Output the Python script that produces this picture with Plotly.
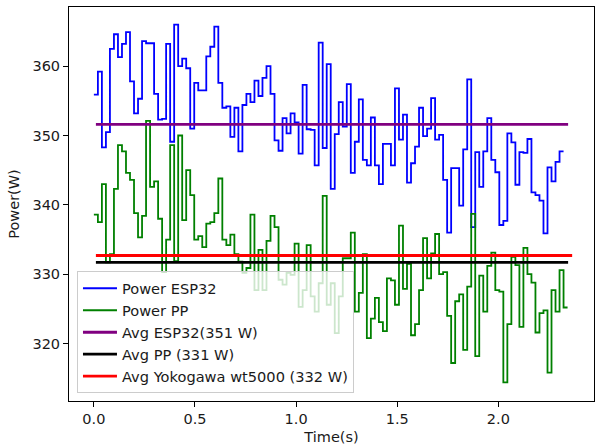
import numpy as np
import plotly.graph_objects as go

# ---- data ----
power_esp32 = [
    355.9, 359.2, 348.3, 350.5, 362.5, 364.6, 361.3, 363.2, 364.9, 357.8,
    353.2, 355.3, 363.6, 363.3, 363.3, 356.0, 352.3, 352.4, 363.2, 349.1,
    366.0, 360.0, 361.1, 359.7, 351.0, 357.6, 356.5, 356.5, 361.4, 362.8,
    365.7, 357.6, 354.0, 354.2, 349.8, 354.0, 347.7, 354.4, 356.0, 354.8,
    357.9, 355.7, 358.3, 360.0, 356.0, 349.3, 347.8, 352.5, 350.3, 353.2,
    351.9, 347.4, 357.3, 350.9, 350.8, 345.7, 363.4, 348.2, 360.3, 342.3,
    350.2, 354.8, 351.3, 357.4, 344.6, 349.1, 355.2, 346.5, 345.7, 352.6,
    345.7, 343.0, 348.8, 348.8, 345.7, 356.8, 349.4, 353.0, 343.2, 346.0,
    348.4, 354.0, 349.9, 351.0, 355.4, 349.4, 350.1, 343.6, 336.0, 345.3,
    345.3, 339.9, 348.0, 358.1, 336.8, 347.6, 342.6, 347.7, 352.5, 346.5,
    344.7, 337.1, 337.7, 350.3, 349.0, 342.9, 347.6, 347.5, 349.5, 341.8,
    341.4, 340.6, 335.9, 345.4, 343.4, 346.2, 347.7,
]

power_pp = [
    338.6, 337.5, 343.0, 331.7, 332.9, 342.3, 348.6, 347.7, 344.6, 343.6,
    338.8, 335.3, 338.4, 352.1, 342.6, 343.4, 338.0, 330.3, 335.0, 348.6,
    331.9, 350.0, 337.8, 345.0, 341.4, 335.0, 335.5, 333.9, 337.3, 337.5,
    338.8, 343.8, 335.0, 334.2, 335.7, 332.9, 331.8, 330.2, 330.9, 338.6,
    327.7, 333.5, 327.7, 334.8, 338.4, 336.8, 329.2, 328.5, 330.2, 329.9,
    334.4, 325.3, 327.7, 334.2, 326.8, 324.6, 328.7, 341.3, 325.6, 328.7,
    321.5, 326.8, 332.3, 332.3, 336.0, 324.6, 327.3, 332.9, 320.8, 323.6,
    326.6, 323.1, 321.8, 329.4, 329.1, 325.6, 337.0, 327.9, 331.5, 321.2,
    322.8, 327.7, 335.2, 329.4, 333.0, 335.8, 330.0, 330.3, 324.0, 317.2,
    326.1, 327.1, 319.1, 328.2, 338.7, 318.2, 329.8, 324.6, 331.2, 333.1,
    327.7, 327.5, 314.4, 322.8, 332.5, 331.3, 322.4, 333.8, 330.0, 328.8,
    321.6, 324.4, 324.8, 315.8, 327.7, 324.6, 330.6, 325.2,
]

sample_dt = 0.01985          # sampling interval (s)
avg_esp32 = 351.6
avg_pp = 331.7
avg_yokogawa = 332.7
avg_span = [0.01, 2.345]
avg_span_yoko = [0.01, 2.365]

names = ["Power ESP32", "Power PP", "Avg ESP32(351 W)", "Avg PP (331 W)",
         "Avg Yokogawa wt5000 (332 W)"]
x_ticks = [0.0, 0.5, 1.0, 1.5, 2.0]
x_tick_labels = ["0.0", "0.5", "1.0", "1.5", "2.0"]
y_ticks = [320, 330, 340, 350, 360]

# step series: repeat last value so the final step is drawn
esp_y = power_esp32 + [power_esp32[-1]]
pp_y = power_pp + [power_pp[-1]]
esp_t = np.arange(len(esp_y)) * sample_dt
pp_t = np.arange(len(pp_y)) * sample_dt

fig = go.Figure()
fig.add_trace(go.Scatter(x=esp_t, y=esp_y, mode="lines", line_shape="hv",
                         line=dict(color="#0000ff", width=1.8), name=names[0]))
fig.add_trace(go.Scatter(x=pp_t, y=pp_y, mode="lines", line_shape="hv",
                         line=dict(color="#008000", width=1.8), name=names[1]))
fig.add_trace(go.Scatter(x=avg_span, y=[avg_esp32, avg_esp32], mode="lines",
                         line=dict(color="#800080", width=2.8), name=names[2]))
fig.add_trace(go.Scatter(x=avg_span, y=[avg_pp, avg_pp], mode="lines",
                         line=dict(color="#000000", width=2.8), name=names[3]))
fig.add_trace(go.Scatter(x=avg_span_yoko, y=[avg_yokogawa, avg_yokogawa], mode="lines",
                         line=dict(color="#ff0000", width=2.8), name=names[4]))

font = dict(family="DejaVu Sans", size=14.5, color="#1a1a1a")

fig.update_layout(
    width=595, height=445,
    margin=dict(l=69, r=1, t=7, b=44, pad=0, autoexpand=False),
    paper_bgcolor="white", plot_bgcolor="white",
    font=font,
    showlegend=True,
    legend=dict(x=0.0152, y=0.0196, xanchor="left", yanchor="bottom",
                bgcolor="rgba(255,255,255,0.8)", bordercolor="#cccccc",
                borderwidth=1, font=dict(family="DejaVu Sans", size=14.6, color="#1a1a1a"),
                itemwidth=34, tracegroupgap=0),
    xaxis=dict(range=[-0.123, 2.473], tickvals=x_ticks, ticktext=x_tick_labels,
               ticks="outside", ticklen=5, tickwidth=1, tickcolor="#000",
               showline=True, mirror=True, linecolor="#000", linewidth=1,
               showgrid=False, zeroline=False, automargin=False,
               title=dict(text="Time(s)", standoff=5, font=font)),
    yaxis=dict(range=[311.72, 368.53], tickvals=y_ticks,
               ticks="outside", ticklen=5, tickwidth=1, tickcolor="#000",
               showline=True, mirror=True, linecolor="#000", linewidth=1,
               showgrid=False, zeroline=False, automargin=False,
               title=dict(text="Power(W)", standoff=9, font=font)),
)

fig.write_html("out.html",
               config={"displayModeBar": False, "staticPlot": True},
               post_script="document.body.style.margin='0';document.body.style.overflow='hidden';")
